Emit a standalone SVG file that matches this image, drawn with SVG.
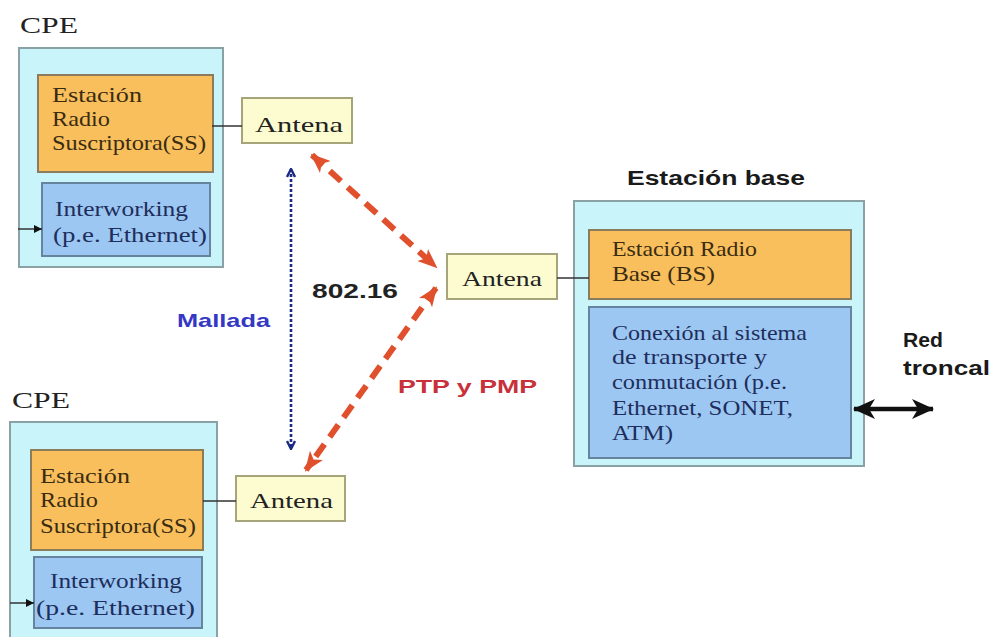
<svg xmlns="http://www.w3.org/2000/svg" width="994" height="637" viewBox="0 0 994 637">
  <defs>
    <marker id="redHead" viewBox="0 0 20 16" refX="18" refY="8" markerWidth="20" markerHeight="16" markerUnits="userSpaceOnUse" orient="auto-start-reverse">
      <path d="M0,0 L20,8 L0,16 L5,8 Z" fill="#e0502c"/>
    </marker>
    <marker id="blueHead" viewBox="0 0 10 10" refX="9" refY="5" markerWidth="10" markerHeight="10" markerUnits="userSpaceOnUse" orient="auto-start-reverse">
      <path d="M1,1 L9,5 L1,9" fill="none" stroke="#1c2a84" stroke-width="2.4"/>
    </marker>
    <marker id="blackHead" viewBox="0 0 22 20" refX="21" refY="10" markerWidth="22" markerHeight="20" markerUnits="userSpaceOnUse" orient="auto-start-reverse">
      <path d="M0,0 L22,10 L0,20 L6,10 Z" fill="#111"/>
    </marker>
    <marker id="smallHead" viewBox="0 0 8 8" refX="8" refY="4" markerWidth="8" markerHeight="8" markerUnits="userSpaceOnUse" orient="auto">
      <path d="M0,0 L8,4 L0,8 Z" fill="#111"/>
    </marker>
  </defs>
  <style>
    .outer { fill: #c8f4fa; stroke: #8aa2a6; stroke-width: 2; }
    .orange { fill: #f8bf5c; stroke: #8a7c5c; stroke-width: 2; }
    .blue { fill: #9cc7f2; stroke: #66849e; stroke-width: 2; }
    .ant { fill: #fcfcd0; stroke: #a6a47a; stroke-width: 2; }
    .serif { font-family: "Liberation Serif", "Times New Roman", serif; }
    .sans { font-family: "Liberation Sans", Arial, sans-serif; font-weight: bold; }
    .brown { fill: #3a2c12; font-size: 21px; }
    .navy { fill: #1e2e5c; font-size: 21px; }
    .wire { stroke: #333; stroke-width: 1.5; fill: none; }
    .radio { stroke: #e0502c; stroke-width: 6; stroke-dasharray: 15 9; fill: none; }
  </style>
  <rect width="994" height="637" fill="#ffffff"/>

  <!-- upper subscriber station -->
  <g id="cpe-top">
    <text class="serif" x="20" y="33" font-size="23" fill="#222" textLength="58" lengthAdjust="spacingAndGlyphs">CPE</text>
    <rect class="outer" x="19" y="48" width="204" height="219"/>
    <rect class="orange" x="38" y="75" width="175" height="97"/>
    <text class="serif brown" x="52" y="102" textLength="90" lengthAdjust="spacingAndGlyphs">Estación</text>
    <text class="serif brown" x="52" y="126" textLength="58" lengthAdjust="spacingAndGlyphs">Radio</text>
    <text class="serif brown" x="52" y="150" textLength="154" lengthAdjust="spacingAndGlyphs">Suscriptora(SS)</text>
    <rect class="blue" x="42" y="183" width="168" height="73"/>
    <text class="serif navy" x="55" y="216" textLength="133" lengthAdjust="spacingAndGlyphs">Interworking</text>
    <text class="serif navy" x="53" y="242" textLength="154" lengthAdjust="spacingAndGlyphs">(p.e. Ethernet)</text>
  </g>
  <g id="antena-top">
    <rect class="ant" x="242" y="98" width="110" height="45"/>
    <text class="serif" x="255" y="132" font-size="22" fill="#222" textLength="88" lengthAdjust="spacingAndGlyphs">Antena</text>
  </g>

  <!-- lower subscriber station -->
  <g id="cpe-bottom">
    <text class="serif" x="12" y="408" font-size="23" fill="#222" textLength="58" lengthAdjust="spacingAndGlyphs">CPE</text>
    <rect class="outer" x="10" y="422" width="207" height="222"/>
    <rect class="orange" x="31" y="450" width="172" height="100"/>
    <text class="serif brown" x="40" y="483" textLength="90" lengthAdjust="spacingAndGlyphs">Estación</text>
    <text class="serif brown" x="40" y="507" textLength="58" lengthAdjust="spacingAndGlyphs">Radio</text>
    <text class="serif brown" x="40" y="533" textLength="156" lengthAdjust="spacingAndGlyphs">Suscriptora(SS)</text>
    <rect class="blue" x="34" y="557" width="168" height="71"/>
    <text class="serif navy" x="50" y="588" textLength="132" lengthAdjust="spacingAndGlyphs">Interworking</text>
    <text class="serif navy" x="36" y="615" textLength="159" lengthAdjust="spacingAndGlyphs">(p.e. Ethernet)</text>
  </g>
  <g id="antena-bottom">
    <rect class="ant" x="236" y="476" width="109" height="45"/>
    <text class="serif" x="250" y="508" font-size="22" fill="#222" textLength="83" lengthAdjust="spacingAndGlyphs">Antena</text>
  </g>

  <!-- base station -->
  <g id="antena-base">
    <rect class="ant" x="447" y="254" width="110" height="45"/>
    <text class="serif" x="462" y="286" font-size="22" fill="#222" textLength="80" lengthAdjust="spacingAndGlyphs">Antena</text>
  </g>
  <g id="estacion-base">
    <text class="sans" x="627" y="185" font-size="21" fill="#1a1a1a" textLength="178" lengthAdjust="spacingAndGlyphs">Estación base</text>
    <rect class="outer" x="574" y="201" width="290" height="265"/>
    <rect class="orange" x="589" y="230" width="262" height="69"/>
    <text class="serif brown" x="612" y="256" textLength="145" lengthAdjust="spacingAndGlyphs">Estación Radio</text>
    <text class="serif brown" x="612" y="281" textLength="103" lengthAdjust="spacingAndGlyphs">Base (BS)</text>
    <rect class="blue" x="589" y="307" width="262" height="151"/>
    <text class="serif navy" x="612" y="340" textLength="195" lengthAdjust="spacingAndGlyphs">Conexión al sistema</text>
    <text class="serif navy" x="612" y="364" textLength="155" lengthAdjust="spacingAndGlyphs">de transporte y</text>
    <text class="serif navy" x="612" y="389" textLength="175" lengthAdjust="spacingAndGlyphs">conmutación (p.e.</text>
    <text class="serif navy" x="612" y="415" textLength="181" lengthAdjust="spacingAndGlyphs">Ethernet, SONET,</text>
    <text class="serif navy" x="612" y="440" textLength="61" lengthAdjust="spacingAndGlyphs">ATM)</text>
  </g>
  <g id="red-troncal">
    <text class="sans" x="903" y="347" font-size="21" fill="#1a1a1a" textLength="40" lengthAdjust="spacingAndGlyphs">Red</text>
    <text class="sans" x="903" y="375" font-size="21" fill="#1a1a1a" textLength="87" lengthAdjust="spacingAndGlyphs">troncal</text>
  </g>

  <!-- labels on the radio links -->
  <g id="labels">
    <text class="sans" x="312" y="298" font-size="21" fill="#222" textLength="86" lengthAdjust="spacingAndGlyphs">802.16</text>
    <text class="sans" x="398" y="393" font-size="19" fill="#c8303a" textLength="139" lengthAdjust="spacingAndGlyphs">PTP y PMP</text>
    <text class="sans" x="177" y="327" font-size="19" fill="#3438c4" textLength="93" lengthAdjust="spacingAndGlyphs">Mallada</text>
  </g>

  <g id="connectors">
    <!-- cable links -->
    <line class="wire" x1="212" y1="126" x2="242" y2="126"/>
    <line class="wire" x1="203" y1="501" x2="236" y2="501"/>
    <line class="wire" x1="557" y1="278" x2="589" y2="278"/>
    <line class="wire" x1="18" y1="229" x2="42" y2="229" stroke="#111" stroke-width="2" marker-end="url(#smallHead)"/>
    <line class="wire" x1="10" y1="603" x2="34" y2="603" stroke="#111" stroke-width="2" marker-end="url(#smallHead)"/>
    <!-- radio links -->
    <line class="radio" x1="312" y1="155" x2="436" y2="267" marker-start="url(#redHead)" marker-end="url(#redHead)"/>
    <line class="radio" x1="436" y1="288" x2="306" y2="470" marker-start="url(#redHead)" marker-end="url(#redHead)"/>
    <line x1="291" y1="169" x2="291" y2="449" stroke="#1c2a84" stroke-width="2.6" stroke-dasharray="3 2" marker-start="url(#blueHead)" marker-end="url(#blueHead)"/>
    <!-- backbone link -->
    <line x1="854" y1="409" x2="933" y2="409" stroke="#111" stroke-width="4.5" marker-start="url(#blackHead)" marker-end="url(#blackHead)"/>
  </g>
</svg>
